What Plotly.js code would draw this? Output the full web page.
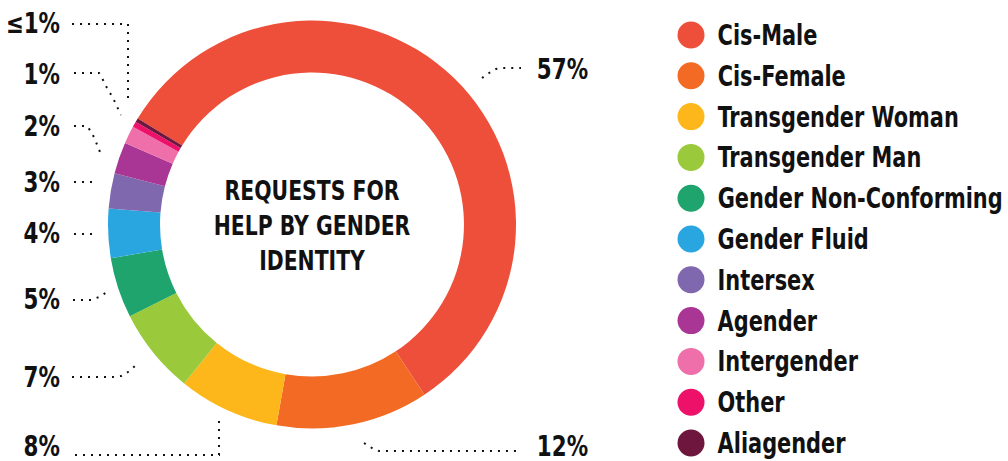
<!DOCTYPE html>
<html><head><meta charset="utf-8">
<script src="https://cdn.plot.ly/plotly-3.0.1.min.js"></script>
<style>html,body{margin:0;padding:0;background:#fff;}#chart{width:1008px;height:461px;}</style>
</head><body><div id="chart"></div>
<script>
// ---- data ----
const categories = ["Cis-Male","Cis-Female","Transgender Woman","Transgender Man","Gender Non-Conforming","Gender Fluid","Intersex","Agender","Intergender","Other","Aliagender"];
const shares = [57.1, 12.1, 8.0, 6.8, 4.8, 3.9, 2.8, 2.5, 1.4, 0.45, 0.3];
const sliceColors = ["#EE4F3A","#F26A24","#FDB71A","#9BC93C","#1FA46E","#29A6DF","#7F68AD","#A93694","#EE6FAA","#ED1169","#6E163E"];
const pctLabels = ["57%","12%","8%","7%","5%","4%","3%","2%","1%","\u22641%"];
const centerTitle = "REQUESTS FOR<br>HELP BY GENDER<br>IDENTITY";

// ---- layout helpers (pixel -> paper) ----
const W = 1008, H = 461;
const px = x => x / W;
const py = y => 1 - y / H;
const FONT = "'Liberation Sans Narrow', 'Arial Narrow', 'DejaVu Sans Condensed', sans-serif";

// label placements: [x, y, xanchor]
const labelPos = [[536,70,"left"],[536,446,"left"],[61,446,"right"],[61,377,"right"],[61,299,"right"],[61,233,"right"],[61,182,"right"],[61,126,"right"],[61,74,"right"],[61,23,"right"]];
const leaderPts = [
  [[482,78],[489,73],[496,69],[503,68],[521,68]],
  [[364,443],[372,448],[379,451],[521,451]],
  [[75,455],[219,455],[219,419]],
  [[72,377],[113,377],[121,376],[128,372],[135,366]],
  [[73,300],[91,300],[99,297],[107,292]],
  [[74,234],[95,234]],
  [[74,182],[96,182]],
  [[74,126],[87,126],[92,133],[96,142],[100,152]],
  [[74,73],[99,73],[103,80],[107,88],[113,98],[121,115]],
  [[72,24],[128,24],[128,102]]
];

const annotations = [];
const annSquash = []; // [anchor pixel x, horizontal scale]
const shapes = [];

// center title
annotations.push({text: centerTitle, x: px(312), y: py(226), xref:"paper", yref:"paper", showarrow:false,
  xanchor:"center", yanchor:"middle", align:"center",
  font:{family:FONT, size:27, color:"#111", weight:"bold"}});
annSquash.push([312, 0.84]);

// percentage labels + leaders
pctLabels.forEach((t,i)=>{
  const [x,y,a] = labelPos[i];
  annotations.push({text:t, x:px(x), y:py(y), xref:"paper", yref:"paper", showarrow:false,
    xanchor:a, yanchor:"middle", borderpad:0, font:{family:FONT, size:28, color:"#111", weight:"bold"}});
  annSquash.push([x, 0.85]);
  const pts = leaderPts[i];
  const d = pts.map((p,k)=> (k?"L":"M") + px(p[0]).toFixed(5) + "," + py(p[1]).toFixed(5)).join(" ");
  shapes.push({type:"path", xref:"paper", yref:"paper", path:d,
    line:{color:"#111", width:2, dash:"2px,6px"}});
});

// legend (circles + labels)
categories.forEach((c,i)=>{
  const yc = 35 + i*40.8;
  shapes.push({type:"circle", xref:"paper", yref:"paper", xsizemode:"pixel", ysizemode:"pixel",
    xanchor:px(691), yanchor:py(yc), x0:-13.5, x1:13.5, y0:-13.5, y1:13.5,
    fillcolor:sliceColors[i], line:{width:0}});
  annotations.push({text:c, x:px(716), y:py(yc), xref:"paper", yref:"paper", showarrow:false,
    xanchor:"left", yanchor:"middle", font:{family:FONT, size:29, color:"#111", weight:"bold"}});
  annSquash.push([716, 0.80]);
});

const trace = {
  type:"pie", labels:categories, values:shares, sort:false, direction:"clockwise",
  rotation:-58.7, hole:0.745, textinfo:"none", hoverinfo:"label+percent",
  marker:{colors:sliceColors, line:{width:0}},
  domain:{x:[px(108), px(516)], y:[py(428.5), py(20.5)]},
  showlegend:false
};

Plotly.newPlot("chart", [trace], {
  width:W, height:H, margin:{l:0,r:0,t:0,b:0,pad:0},
  paper_bgcolor:"#fff", plot_bgcolor:"#fff", showlegend:false,
  annotations, shapes
}, {displayModeBar:false, staticPlot:true}).then(gd => {
  // condense the bold type horizontally (the reference uses a condensed face)
  gd.querySelectorAll("g.annotation").forEach(g => {
    const idx = +g.getAttribute("data-index");
    const m = annSquash[idx];
    if (!m) return;
    const [ax, s] = m;
    g.setAttribute("transform", `translate(${ax} 0) scale(${s} 1) translate(${-ax} 0)`);
  });
});
</script></body></html>
